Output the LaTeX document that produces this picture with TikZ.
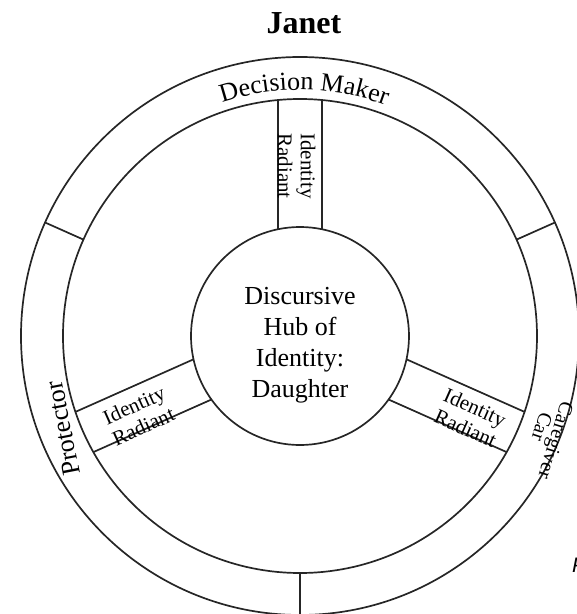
\documentclass[tikz,border=0pt]{standalone}
\usepackage{fontspec}
\setmainfont{Liberation Serif}
\newfontfamily\fragfont{Liberation Sans}
\usetikzlibrary{calc,decorations.text}
\newcommand\rolefont{\fontsize{26}{26}\selectfont}

\begin{document}
\begin{tikzpicture}[
  line/.style={draw=black!85, line width=1.7pt},
  hubcirc/.style={circle, line, minimum size=218pt, inner sep=0pt},
  hubtext/.style={align=center, font=\fontsize{26}{31}\selectfont},
  radlbl/.style={align=center, font=\fontsize{21}{23}\selectfont, inner sep=0pt},
  rolelbl/.style={font=\rolefont, inner sep=0pt},
  carelbl/.style={font=\fontsize{20}{20}\selectfont, inner sep=0pt}
]
\useasboundingbox (-300pt,-278pt) rectangle (277pt,336pt);
\clip (-300pt,-278pt) rectangle (277pt,336pt);

\node[font=\bfseries\fontsize{32}{32}\selectfont, anchor=base] (title) at (4pt,303pt) {Janet};

% rings
\coordinate (c) at (0,0);
\draw[line] (c) circle (279pt);
\draw[line] (c) circle (237pt);
\node[hubcirc] (hub) at (c) {};
\node[hubtext] (hubtxt) at ([yshift=-9pt]hub.center) {Discursive\\Hub of\\Identity:\\Daughter};

% spokes
\foreach \a in {90,204,336} {
  \draw[line] ($(c)+(\a:106.8pt)+(\a+90:22pt)$) -- ($(c)+(\a:236pt)+(\a+90:22pt)$);
  \draw[line] ($(c)+(\a:106.8pt)+(\a-90:22pt)$) -- ($(c)+(\a:236pt)+(\a-90:22pt)$);
}
% dividers of the outer ring
\foreach \a in {24,156,270}
  \draw[line] ($(c)+(\a:237pt)$) -- ($(c)+(\a:279pt)$);

% radiant labels
\node[radlbl, rotate=-90] (radtop) at (-3.5pt,170pt) {Identity\\Radiant};
\node[radlbl, rotate=24] (radleft) at (206.3:180pt) {Identity\\Radiant};
\node[radlbl, rotate=-24] (radright) at (334.3:189pt) {Identity\\Radiant};

% roles
\path[decorate, decoration={text along path, text align=center,
  text={|\rolefont|Decision Maker}}]
  (119:246pt) arc[start angle=119, end angle=59, radius=246pt];
\node[rolelbl, rotate=101, anchor=base] (protector) at (-229pt,-91pt) {Protector};
\node[carelbl, rotate=-107] (caregiver) at (254pt,-104pt) {Caregiver};
\node[carelbl, rotate=-108] (car) at (242pt,-91pt) {Car};
\node[font=\fragfont\itshape\fontsize{21}{21}\selectfont, anchor=base west, inner sep=0pt] (frag) at (272pt,-236pt) {P};
\end{tikzpicture}
\end{document}
